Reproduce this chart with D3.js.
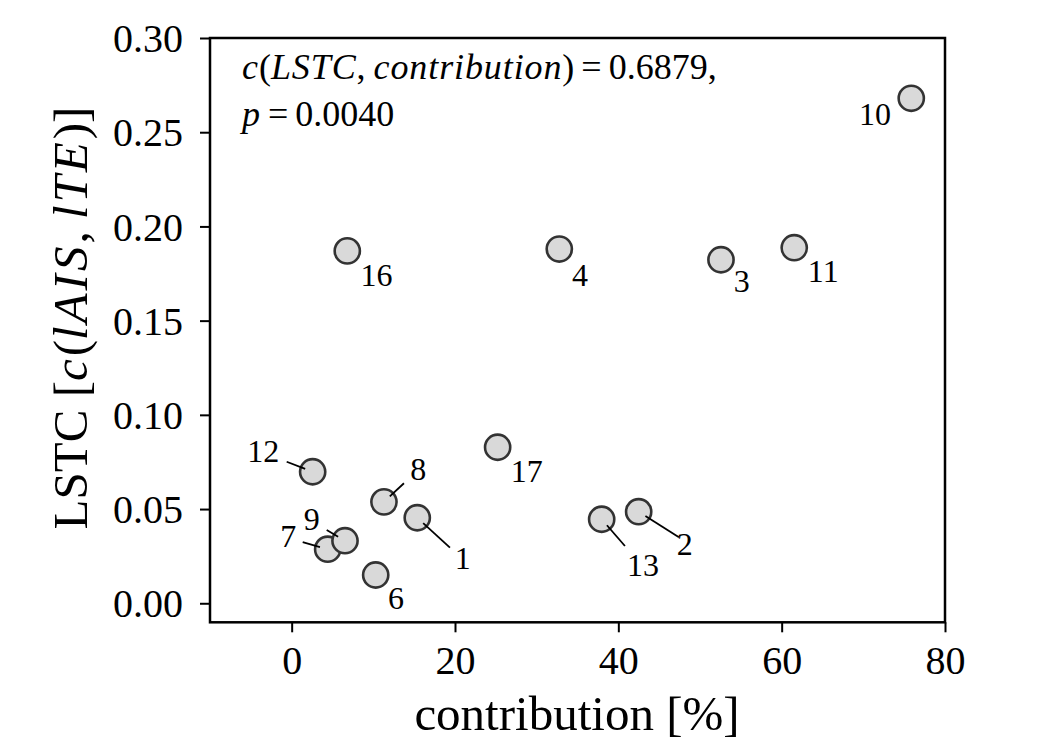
<!DOCTYPE html>
<html><head><meta charset="utf-8">
<script src="https://cdn.jsdelivr.net/npm/d3@7"></script>
<style>body{margin:0;background:#fff}text,tspan{font-family:"Liberation Serif","Times New Roman",serif}</style>
</head><body><svg id="c" width="1050" height="750"></svg>
<script>
const ids = ["1","2","3","4","6","7","8","9","10","11","12","13","16","17"];
const contribution = [15.38,42.49,52.57,32.77,10.29,4.41,11.30,6.53,75.87,61.54,2.57,37.96,6.81,25.22];
const lstc = [0.0454,0.0486,0.1823,0.1880,0.0150,0.0287,0.0538,0.0332,0.2680,0.1887,0.0698,0.0446,0.1870,0.0828];
// label anchor positions (data units)
const labelX = [20.94,48.12,55.10,35.30,12.77,-0.42,15.50,2.45,71.43,65.09,-3.48,43.01,10.40,28.78];
const labelY = [0.0241,0.0316,0.1709,0.1745,0.0029,0.0356,0.0714,0.0448,0.2598,0.1762,0.0807,0.0206,0.1745,0.0701];
// leader line start (label side, data units); null = no leader
const leadX = [19.38,47.42,null,null,null,1.35,13.75,4.29,null,null,-0.61,40.81,null,null];
const leadY = [0.0295,0.0350,null,null,null,0.0324,0.0637,0.0389,null,null,0.0751,0.0304,null,null];
const xTicks = [0,20,40,60,80];
const yTicks = [0.00,0.05,0.10,0.15,0.20,0.25,0.30];

const SERIF = "Liberation Serif";
const svg = d3.select("#c");
const L=210,R=945,T=38,B=622.3;
const x = d3.scaleLinear().domain([-10,80]).range([L,R]);
const y = d3.scaleLinear().domain([-0.0101,0.30]).range([B,T]);

const xa = svg.append("g").attr("transform",`translate(0,${B})`)
  .call(d3.axisBottom(x).tickValues(xTicks).tickSize(10).tickPadding(13).tickFormat(d3.format("d")));
const ya = svg.append("g").attr("transform",`translate(${L},0)`)
  .call(d3.axisLeft(y).tickValues(yTicks).tickSize(10).tickPadding(17).tickFormat(d3.format(".2f")));
[xa,ya].forEach(a=>{
  a.attr("font-family",SERIF);
  a.select(".domain").remove();
  a.selectAll(".tick line").attr("stroke","#000").attr("stroke-width",2);
  a.selectAll(".tick text").attr("font-size",40).attr("fill","#000").attr("font-family",SERIF);
});
ya.selectAll(".tick text").attr("dy","0.34em");
svg.append("rect").attr("x",L).attr("y",T).attr("width",R-L).attr("height",B-T)
  .attr("fill","none").attr("stroke","#000").attr("stroke-width",2.5);

const data = ids.map((id,i)=>({id,x:contribution[i],y:lstc[i],lx:labelX[i],ly:labelY[i],sx:leadX[i],sy:leadY[i]}));

svg.append("g").selectAll("circle").data(data).join("circle")
  .attr("cx",d=>x(d.x)).attr("cy",d=>y(d.y)).attr("r",12.6)
  .attr("fill","#d9d9d9").attr("stroke","#333").attr("stroke-width",2.6);

svg.append("g").selectAll("line").data(data.filter(d=>d.sx!==null)).join("line")
  .attr("x1",d=>x(d.sx)).attr("y1",d=>y(d.sy))
  .attr("x2",d=>{const dx=x(d.sx)-x(d.x),dy=y(d.sy)-y(d.y),l=Math.hypot(dx,dy);return x(d.x)+dx/l*8;})
  .attr("y2",d=>{const dx=x(d.sx)-x(d.x),dy=y(d.sy)-y(d.y),l=Math.hypot(dx,dy);return y(d.y)+dy/l*8;})
  .attr("stroke","#000").attr("stroke-width",1.8);

svg.append("g").selectAll("text").data(data).join("text")
  .attr("x",d=>x(d.lx)).attr("y",d=>y(d.ly)).attr("dy","0.35em")
  .attr("text-anchor","middle").attr("font-size",32).attr("font-family",SERIF).text(d=>d.id);

// run-based layout (mathtext-like): [text, italic, gapAfter]
function runs(x0, y0, size, parts, ls){
  const g = svg.append("g");
  let cx = x0;
  parts.forEach(([t,it,gap])=>{
    const el = g.append("text").attr("x",cx).attr("y",y0).attr("font-size",size)
      .attr("font-family",SERIF).attr("font-style",it?"italic":"normal").text(t);
    if(it && ls) el.attr("letter-spacing",ls);
    cx += el.node().getComputedTextLength() + (gap||0);
  });
  return g;
}
runs(242,79,36,[["c",1,0],["(",0,0],["LSTC",1,0],[",",0,8],["contribution",1,0],[")",0,7],["=",0,7],["0.6879,",0,0]],0.9);
runs(242,126,36,[["p",1,8],["=",0,7],["0.0040",0,0]]);

// axis labels
svg.append("text").attr("x",577).attr("y",730).attr("text-anchor","middle").attr("font-size",49)
  .attr("font-family",SERIF).text("contribution [%]");
const yl = svg.append("text").attr("transform",`translate(87,318) rotate(-90)`).attr("text-anchor","middle")
  .attr("font-size",49).attr("font-family",SERIF);
[["LSTC [",0],["c",1],["(",0],["lAIS",1],[", ",0],["lTE",1],[")]",0]].forEach(([t,it])=>{
  const s = yl.append("tspan").attr("font-family",SERIF).attr("font-style",it?"italic":"normal").text(t);
  if(it) s.attr("letter-spacing",3);
});
</script></body></html>
